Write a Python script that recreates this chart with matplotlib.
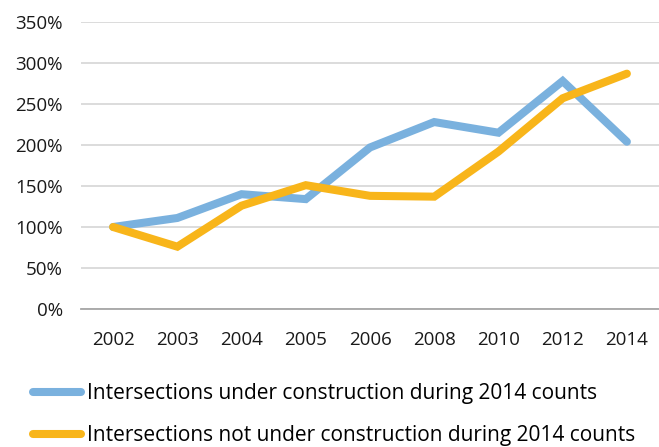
import matplotlib
matplotlib.use("Agg")
import matplotlib.pyplot as plt
from matplotlib.ticker import FuncFormatter

years = ["2002", "2003", "2004", "2005", "2006", "2008", "2010", "2012", "2014"]
under_construction = [100, 111, 140, 134, 197, 228, 215, 278, 204]
not_under_construction = [100, 76, 126, 151, 138, 137, 192, 257, 287]

plt.rcParams["font.family"] = ["Open Sans", "DejaVu Sans"]

W, H = 659, 447
fig = plt.figure(figsize=(W / 100, H / 100), dpi=100)
ax = fig.add_axes([81 / W, 1 - 309 / H, (659 - 81) / W, (309 - 22) / H])

x = range(len(years))
ax.plot(x, under_construction, color="#7AB1DE", linewidth=5.8,
        solid_capstyle="round", solid_joinstyle="miter",
        label="Intersections under construction during 2014 counts", zorder=3)
ax.plot(x, not_under_construction, color="#F8B51A", linewidth=5.8,
        solid_capstyle="round", solid_joinstyle="miter",
        label="Intersections not under construction during 2014 counts", zorder=4)

ax.set_xlim(-0.5, len(years) - 0.5)
ax.set_ylim(0, 350)
ax.set_yticks(range(0, 351, 50))
ax.yaxis.set_major_formatter(FuncFormatter(lambda v, p: f"{int(v)}%"))
ax.set_xticks(list(x))
ax.set_xticklabels(years)

ax.grid(axis="y", color="#D9D9D9", linewidth=1.3)
ax.set_axisbelow(True)
for s in ["top", "right", "left"]:
    ax.spines[s].set_visible(False)
ax.spines["bottom"].set_color("#A6A6A6")
ax.spines["bottom"].set_linewidth(1.3)
ax.tick_params(axis="both", length=0, labelsize=13.5, colors="#1a1a1a")
ax.tick_params(axis="y", pad=13)
ax.tick_params(axis="x", pad=16)

fig.legend(loc="upper left", bbox_to_anchor=(33 / W, 1 - 383 / H),
           frameon=False, fontsize=15, handlelength=2.3, handletextpad=0.3,
           labelspacing=1.0, borderaxespad=0, borderpad=0)

fig.savefig("out.png", dpi=100)
